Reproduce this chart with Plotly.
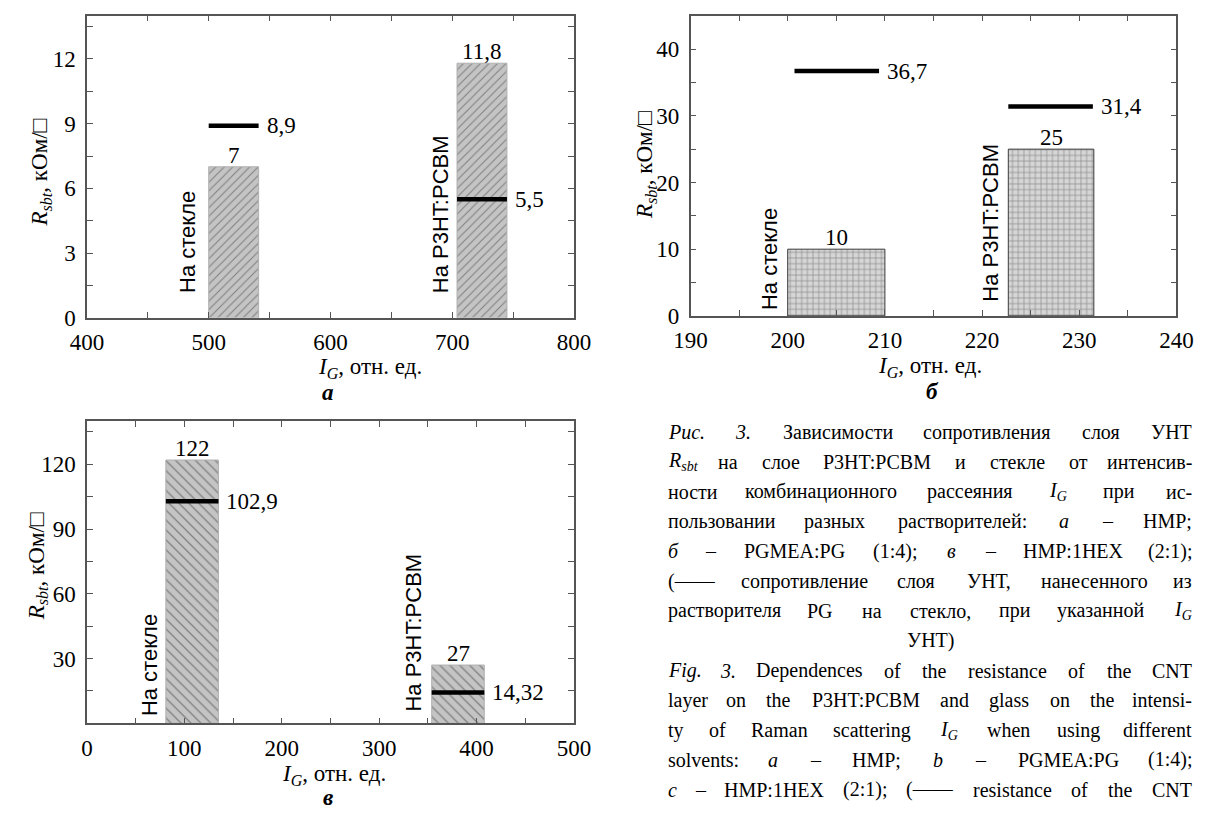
import re
import plotly.graph_objects as go

W, H = 1209, 816

# ---------------- data ----------------
substrates = ["На стекле", "На P3HT:PCBM"]

# а – HMP
a_ig_lo = [500, 704]
a_ig_hi = [541, 745]
a_rsbt = [7, 11.8]
a_pg_ig_lo = [500, 704]
a_pg_ig_hi = [541, 745]
a_pg_rsbt = [8.9, 5.5]
a_xticks = [400, 500, 600, 700, 800]
a_yticks = [0, 3, 6, 9, 12]

# б – PGMEA:PG (1:4)
b_ig_lo = [200, 222.7]
b_ig_hi = [210, 231.5]
b_rsbt = [10, 25]
b_pg_ig_lo = [200.7, 222.7]
b_pg_ig_hi = [209.4, 231.4]
b_pg_rsbt = [36.7, 31.4]
b_xticks = [190, 200, 210, 220, 230, 240]
b_yticks = [0, 10, 20, 30, 40]

# в – HMP:1HEX (2:1)
c_ig_lo = [81, 354]
c_ig_hi = [135, 408]
c_rsbt = [122, 27]
c_pg_ig_lo = [81, 354]
c_pg_ig_hi = [135, 408]
c_pg_rsbt = [102.9, 14.32]
c_xticks = [0, 100, 200, 300, 400, 500]
c_yticks = [30, 60, 90, 120]

caption_lines = [
    "<i>Рис.</i> <i>3.</i> Зависимости сопротивления слоя УНТ",
    "<i>R<sub>sbt</sub></i> на слое P3HT:PCBM и стекле от интенсив-",
    "ности комбинационного рассеяния <i>I<sub>G</sub></i> при ис-",
    "пользовании разных растворителей: <i>а</i> – HMP;",
    "<i>б</i> – PGMEA:PG (1:4); <i>в</i> – HMP:1HEX (2:1);",
    "(—— сопротивление слоя УНТ, нанесенного из",
    "растворителя PG на стекло, при указанной <i>I<sub>G</sub></i>",
    "УНТ)",
    "<i>Fig.</i> <i>3.</i> Dependences of the resistance of the CNT",
    "layer on the P3HT:PCBM and glass on the intensi-",
    "ty of Raman scattering <i>I<sub>G</sub></i> when using different",
    "solvents: <i>a</i> – HMP; <i>b</i> – PGMEA:PG (1:4);",
    "<i>c</i> – HMP:1HEX (2:1); (—— resistance of the CNT",
]

SERIF = "Liberation Serif, Times New Roman, serif"
SANS = "Liberation Sans, Arial, sans-serif"
AXC = "#555555"


def px(x):
    return x / W


def py(y):
    return 1 - y / H


def fmt(v):
    return f"{v:g}".replace(".", ",")


panels = [
    dict(ax="", dom_x=(72, 573), dom_y=(16, 323), xr=(400, 800), yr=(0, 14),
         xt=a_xticks, yt=a_yticks, xminor=50, yminor=1.5,
         lo=a_ig_lo, hi=a_ig_hi, r=a_rsbt, plo=a_pg_ig_lo, phi=a_pg_ig_hi, pr=a_pg_rsbt,
         pattern=dict(shape="/", size=6, solidity=0.18, fgcolor="#3c3c3c", bgcolor="#c4c4c4"),
         edge="#b0b0b0", rot_x=[482, 690], rot_y=[1.05, 1.05],
         ytitle=(25, 175), xtitle=(363, 374), letter=("а", 320, 399)),
    dict(ax="2", dom_x=(693, 1193), dom_y=(16, 321), xr=(190, 240), yr=(0, 45),
         xt=b_xticks, yt=b_yticks, xminor=5, yminor=5,
         lo=b_ig_lo, hi=b_ig_hi, r=b_rsbt, plo=b_pg_ig_lo, phi=b_pg_ig_hi, pr=b_pg_rsbt,
         pattern=dict(shape="+", size=5.7, solidity=0.22, fgcolor="#3a3a3a", bgcolor="#d6d6d6"),
         edge="#3a3a3a", rot_x=[198.2, 220.9], rot_y=[0.6, 1.8],
         ytitle=(648, 168), xtitle=(939, 373), letter=("б", 942, 398)),
    dict(ax="3", dom_x=(72, 573), dom_y=(428, 735), xr=(0, 500), yr=(0, 140),
         xt=c_xticks, yt=c_yticks, xminor=50, yminor=15,
         lo=c_ig_lo, hi=c_ig_hi, r=c_rsbt, plo=c_pg_ig_lo, phi=c_pg_ig_hi, pr=c_pg_rsbt,
         pattern=dict(shape="\\", size=7, solidity=0.18, fgcolor="#3c3c3c", bgcolor="#c4c4c4"),
         edge="#b0b0b0", rot_x=[64.5, 335], rot_y=[2.3, 4.6],
         ytitle=(21, 575), xtitle=(326, 788), letter=("в", 320, 810)),
]

FS = 23
ROT_FS = 22

fig = go.Figure()
annotations = []
layout_axes = {}

for p in panels:
    xa, ya = "x" + p["ax"], "y" + p["ax"]
    # hatched bars: resistance of the CNT layer
    fig.add_trace(go.Bar(
        x=[(l + h) / 2 for l, h in zip(p["lo"], p["hi"])],
        y=p["r"],
        width=[h - l for l, h in zip(p["lo"], p["hi"])],
        xaxis=xa, yaxis=ya, showlegend=False,
        marker=dict(color=p["pattern"]["bgcolor"], pattern=p["pattern"],
                    line=dict(color=p["edge"], width=1)),
    ))
    # black segments: PG-deposited layer on glass
    lx, ly = [], []
    for l, h, v in zip(p["plo"], p["phi"], p["pr"]):
        lx += [l, h, None]
        ly += [v, v, None]
    fig.add_trace(go.Scatter(x=lx, y=ly, mode="lines", xaxis=xa, yaxis=ya,
                             showlegend=False, line=dict(color="black", width=4.5)))

    # value labels
    for l, h, v in zip(p["lo"], p["hi"], p["r"]):
        annotations.append(dict(x=(l + h) / 2, y=v, xref=xa, yref=ya, text=fmt(v),
                                showarrow=False, xanchor="center", yanchor="bottom",
                                yshift=-3, font=dict(family=SERIF, size=FS, color="black")))
    for h, v in zip(p["phi"], p["pr"]):
        annotations.append(dict(x=h, y=v, xref=xa, yref=ya, text=fmt(v),
                                showarrow=False, xanchor="left", yanchor="middle",
                                xshift=6, font=dict(family=SERIF, size=FS, color="black")))
    # substrate labels
    for name, x, y in zip(substrates, p["rot_x"], p["rot_y"]):
        annotations.append(dict(x=x, y=y, xref=xa, yref=ya, text=name, textangle=-90,
                                showarrow=False, xanchor="center", yanchor="bottom",
                                font=dict(family=SANS, size=ROT_FS, color="black")))
    # axis titles and panel letter
    annotations.append(dict(x=px(p["ytitle"][0]), y=py(p["ytitle"][1]), xref="paper", yref="paper",
                            text="<i>R<sub>sbt</sub></i>, кОм/□", textangle=-90, showarrow=False,
                            xanchor="center", yanchor="middle",
                            font=dict(family=SERIF, size=FS, color="black")))
    annotations.append(dict(x=px(p["xtitle"][0]), y=py(p["xtitle"][1]), xref="paper", yref="paper",
                            text="<i>I<sub>G</sub></i>, отн. ед.", showarrow=False,
                            xanchor="center", yanchor="middle",
                            font=dict(family=SERIF, size=FS, color="black")))
    annotations.append(dict(x=px(p["letter"][1]), y=py(p["letter"][2]), xref="paper", yref="paper",
                            text="<b><i>" + p["letter"][0] + "</i></b>", showarrow=False,
                            xanchor="center", yanchor="middle",
                            font=dict(family=SERIF, size=FS, color="black")))

    common = dict(showline=True, linecolor=AXC, linewidth=1.5, mirror="ticks",
                  ticks="inside", ticklen=6, tickwidth=1.2, tickcolor=AXC,
                  showgrid=False, zeroline=False, tickmode="array",
                  tickfont=dict(family=SERIF, size=FS, color="black"))
    xkey = "xaxis" + p["ax"]
    ykey = "yaxis" + p["ax"]
    layout_axes[xkey] = dict(common, domain=[px(p["dom_x"][0]), px(p["dom_x"][1])],
                             range=list(p["xr"]), tickvals=p["xt"], anchor=ya,
                             ticklabelstandoff=3,
                             minor=dict(dtick=p["xminor"], ticks="inside", ticklen=6,
                                        tickcolor=AXC, tickwidth=1.2))
    layout_axes[ykey] = dict(common, domain=[py(p["dom_y"][1]), py(p["dom_y"][0])],
                             range=list(p["yr"]), tickvals=p["yt"], anchor=xa,
                             ticklabelstandoff=5,
                             minor=dict(dtick=p["yminor"], ticks="inside", ticklen=6,
                                        tickcolor=AXC, tickwidth=1.2))

# ---------------- caption (justified column) ----------------
CW = {" ": .25, ".": .25, ",": .25, ":": .28, ";": .28, "(": .333, ")": .333, "-": .333,
      "–": .5, "—": 1.0, "□": .6}
LAT = dict(a=.444, b=.5, c=.444, d=.5, e=.444, f=.333, g=.5, h=.5, i=.278, j=.278, k=.5,
           l=.278, m=.778, n=.5, o=.5, p=.5, q=.5, r=.333, s=.389, t=.278, u=.5, v=.5,
           w=.722, x=.5, y=.5, z=.444)
CYR = {"м": .62, "ш": .75, "щ": .75, "ж": .72, "ы": .7, "ю": .72, "т": .45, "г": .42,
       "с": .44, "е": .44, "а": .44, "з": .4, "я": .48, "э": .44, "ф": .65, "р": .5}


def char_w(ch):
    if ch in CW:
        return CW[ch]
    if ch.isdigit():
        return .5
    if ch in LAT:
        return LAT[ch]
    if ch in CYR:
        return CYR[ch]
    if ch.isupper():
        return .72 if ch in "MНHNXAGCBDУ" else .62
    return .5


def text_w(s, size):
    total, scale = 0.0, 1.0
    for tok in re.split(r"(<[^>]+>)", s):
        if tok.startswith("<"):
            if tok == "<sub>":
                scale = 0.7
            elif tok == "</sub>":
                scale = 1.0
            continue
        total += sum(char_w(c) for c in tok) * size * scale
    return total


CAP_FS = 20
X0, X1 = 668, 1211
Y0, DY = 439, 30.3
cfont = dict(family=SERIF, size=CAP_FS, color="black")
for i, line in enumerate(caption_lines):
    yy = py(Y0 + i * DY)
    if line == "УНТ)":
        annotations.append(dict(x=px((X0 + X1) / 2), y=yy, xref="paper", yref="paper",
                                text=line, showarrow=False, xanchor="center",
                                yanchor="middle", font=cfont))
        continue
    words = line.split(" ")
    widths = [text_w(w, CAP_FS) for w in words]
    gap = (X1 - X0 - sum(widths)) / (len(words) - 1)
    x = X0
    for j, (w, ww) in enumerate(zip(words, widths)):
        if j == 0:
            xa, anc = X0, "left"
        elif j == len(words) - 1:
            xa, anc = X1, "right"
        else:
            xa, anc = x + ww / 2, "center"
        annotations.append(dict(x=px(xa), y=yy, xref="paper", yref="paper", text=w,
                                showarrow=False, xanchor=anc, yanchor="middle", font=cfont))
        x += ww + gap

fig.update_layout(
    width=W, height=H,
    margin=dict(l=0, r=0, t=0, b=0),
    paper_bgcolor="white", plot_bgcolor="white",
    showlegend=False,
    annotations=annotations,
    **layout_axes,
)

fig.write_html("out.html")
